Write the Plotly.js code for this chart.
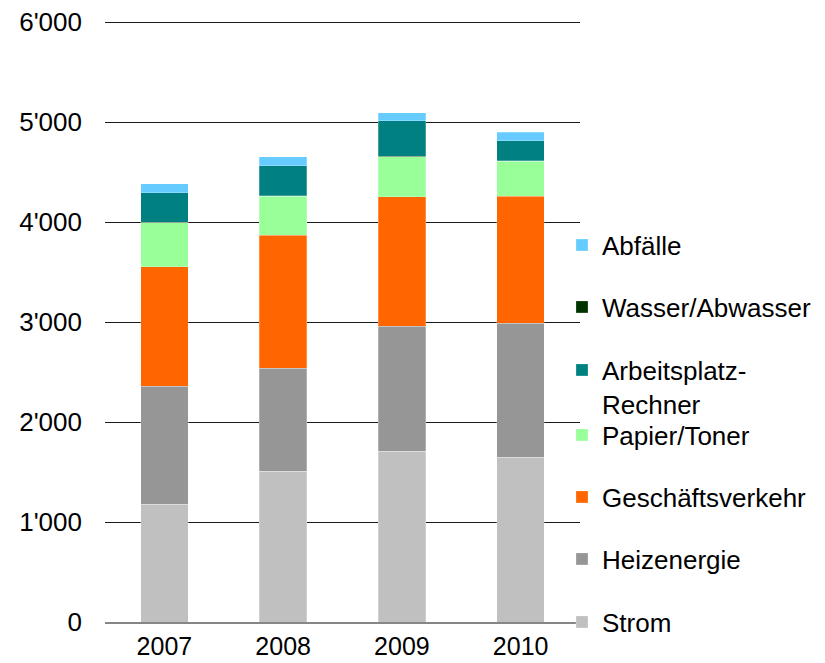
<!DOCTYPE html>
<html>
<head>
<meta charset="utf-8">
<script src="https://cdn.plot.ly/plotly-3.0.1.min.js"></script>
<style>html,body{margin:0;padding:0;background:#fff;}#chart{width:825px;height:663px;}</style>
</head>
<body>
<div id="chart"></div>
<script>
var years = ["2007", "2008", "2009", "2010"];
var seriesNames = ["Strom", "Heizenergie", "Geschäftsverkehr", "Papier/Toner", "Wasser/Abwasser", "Arbeitsplatz-<br>Rechner", "Abfälle"];
var strom = [1180, 1510, 1710, 1650];
var heizenergie = [1180, 1030, 1250, 1340];
var geschaeftsverkehr = [1195, 1330, 1295, 1270];
var papierToner = [440, 390, 400, 350];
var wasserAbwasser = [3, 3, 3, 3];
var arbeitsplatzRechner = [297, 300, 353, 200];
var abfaelle = [90, 90, 83, 87];
var seriesColors = ["#C0C0C0", "#969696", "#FF6600", "#99FF99", "#003300", "#008080", "#66CCFF"];
var yTickVals = [0, 1000, 2000, 3000, 4000, 5000, 6000];
var yTickText = ["0", "1'000", "2'000", "3'000", "4'000", "5'000", "6'000"];

var seriesValues = [strom, heizenergie, geschaeftsverkehr, papierToner, wasserAbwasser, arbeitsplatzRechner, abfaelle];
var legendIds = ["legend", "legend2", "legend3", "legend4", "legend5", "legend6", "legend7"];
// vertical pixel centres of legend entries (layout)
var legendPx = [622, 559, 497, 435, 307, 387, 245];

var font = {family: "'Liberation Sans', Arial, sans-serif", size: 26, color: "#000"};
var xFont = {family: "'Liberation Sans', Arial, sans-serif", size: 25, color: "#000"};

var traces = seriesNames.map(function (name, i) {
  return {
    type: "bar",
    name: name,
    x: years,
    y: seriesValues[i],
    legend: legendIds[i],
    marker: {color: seriesColors[i], line: {color: "rgba(255,255,255,0.5)", width: 0.5}},
    hoverinfo: "x+y+name"
  };
});

var layout = {
  width: 825,
  height: 663,
  margin: {l: 105, r: 245, t: 17, b: 41, autoexpand: false},
  paper_bgcolor: "#fff",
  plot_bgcolor: "#fff",
  font: font,
  barmode: "stack",
  bargap: 0.6,
  xaxis: {
    type: "category",
    showline: true,
    linecolor: "#868686",
    linewidth: 2,
    ticks: "",
    ticklabelstandoff: 1,
    tickfont: xFont,
    showgrid: false,
    fixedrange: true
  },
  yaxis: {
    range: [0, 6050],
    tickvals: yTickVals,
    ticktext: yTickText,
    showgrid: true,
    gridcolor: "#1a1a1a",
    gridwidth: 1,
    zeroline: false,
    showline: false,
    ticks: "",
    ticklabelstandoff: 22,
    tickfont: font,
    fixedrange: true
  },
  showlegend: true
};

legendIds.forEach(function (id, i) {
  layout[id] = {
    xref: "container",
    yref: "container",
    x: 562 / 825,
    xanchor: "left",
    y: 1 - legendPx[i] / 663,
    yanchor: "middle",
    valign: i === 5 ? "top" : "middle",
    bgcolor: "rgba(0,0,0,0)",
    borderwidth: 0,
    font: font,
    itemclick: false,
    itemdoubleclick: false
  };
});

Plotly.newPlot("chart", traces, layout, {displayModeBar: false, staticPlot: true});
</script>
</body>
</html>
